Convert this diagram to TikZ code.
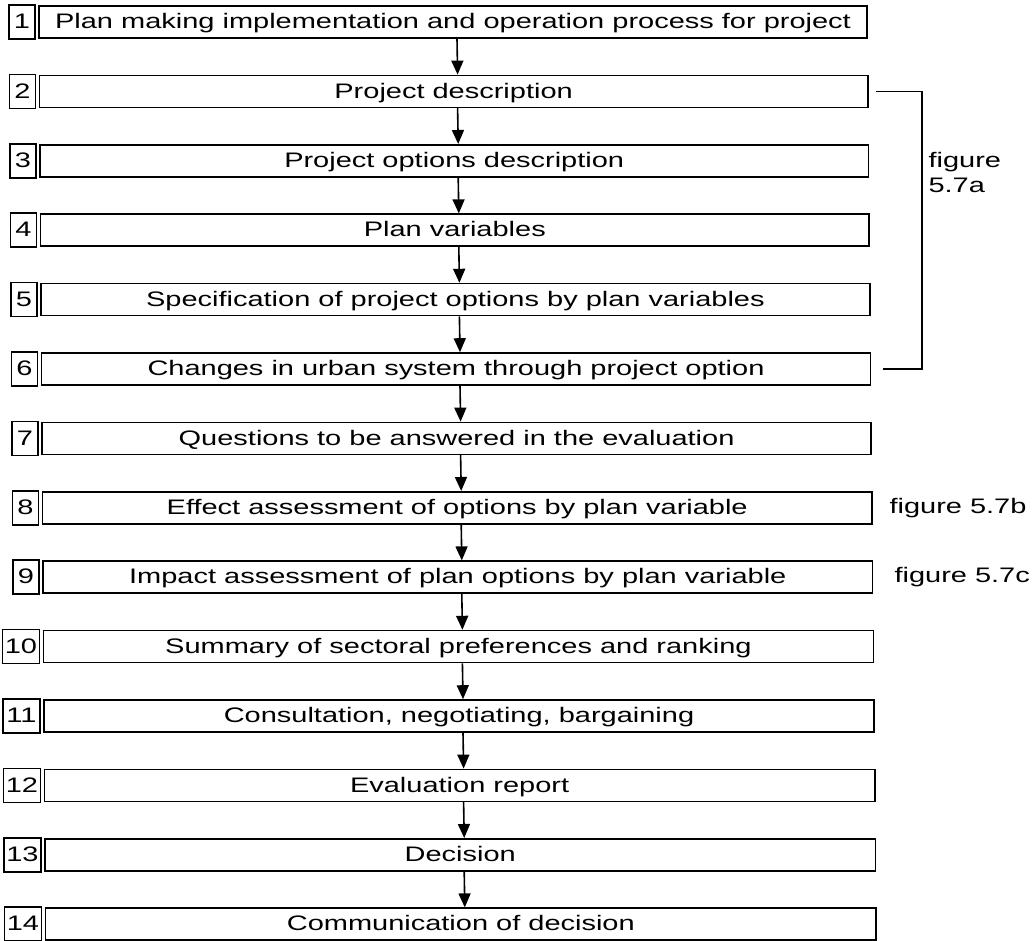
\documentclass[tikz,border=0pt]{standalone}
\usepackage{fontspec}
\setmainfont[FakeStretch=1.38]{Liberation Sans}
\usetikzlibrary{arrows.meta}
\begin{document}
\begin{tikzpicture}[x=1pt,y=-1pt,
  txt/.style={font=\fontsize{21}{25}\selectfont},
  stepbox/.style={txt, draw, line width=1.6pt, minimum height=32pt, inner sep=0pt,
    text height=15pt, text depth=1.5pt},
  numbox/.style={txt, draw, line width=1.6pt, minimum height=34pt, inner sep=0pt,
    text height=15pt, text depth=1.5pt},
  flow/.style={-{Triangle[length=14pt,width=12pt]}, line width=1.6pt},
  bracket/.style={line width=1.6pt}]
\useasboundingbox (0,0) rectangle (1035,941);
% process steps: numbered tag on the left, step box on the right
\foreach \i/\t in {
  1/{Plan making implementation and operation process for project},
  2/{Project description},
  3/{Project options description},
  4/{Plan variables},
  5/{Specification of project options by plan variables},
  6/{Changes in urban system through project option},
  7/{Questions to be answered in the evaluation},
  8/{Effect assessment of options by plan variable},
  9/{Impact assessment of plan options by plan variable},
  10/{Summary of sectoral preferences and ranking},
  11/{Consultation, negotiating, bargaining},
  12/{Evaluation report},
  13/{Decision},
  14/{Communication of decision}} {
  \pgfmathsetmacro\y{22+69.4*(\i-1)}
  \pgfmathsetmacro\L{39+0.5*(\i-1)}
  \pgfmathsetmacro\R{867+0.7*(\i-1)}
  \pgfmathsetmacro\W{\R-\L}
  \pgfmathsetmacro\nw{\i<10 ? 26 : 37}
  \node[stepbox, minimum width=\W pt] (b\i) at ({(\L+\R)/2},\y) {\t};
  \node[numbox, minimum width=\nw pt] (n\i) at ({\L-4-\nw/2},\y) {\i};
}
% arrows between consecutive steps
\foreach \i in {1,...,13} {
  \pgfmathtruncatemacro\j{\i+1}
  \draw[flow] ([xshift=4pt]b\i.south) -- ([xshift=4pt]b\j.north);
}
% bracket spanning steps 2 to 6
\coordinate (brx) at (922,0);
\draw[bracket] ([xshift=7pt]b2.east) -| (brx |- b6.east) -- ([xshift=12pt]b6.east);
\node[txt, anchor=west, align=left] (fa) at (925,172) {figure\\5.7a};
\node[txt, anchor=west] (fb) at (886,507.8) {figure 5.7b};
\node[txt, anchor=west] (fc) at (891,577.2) {figure 5.7c};
\end{tikzpicture}
\end{document}
